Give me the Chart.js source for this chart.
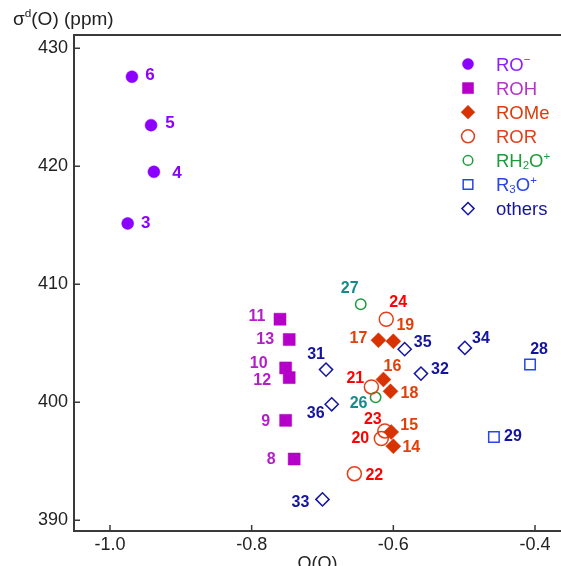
<!DOCTYPE html>
<html>
<head>
<meta charset="utf-8">
<script src="https://cdn.jsdelivr.net/npm/chart.js@4.4.1/dist/chart.umd.min.js"></script>
<style>
  html, body { margin: 0; padding: 0; background: #fff; overflow: hidden; }
  #wrap { width: 561px; height: 566px; position: relative; }
</style>
</head>
<body>
<div id="wrap"><canvas id="sigmaChart"></canvas></div>
<script>
// Q(O) charge vs diamagnetic shielding sigma-d(O) in ppm, one group per class
const roMinusIds = [3, 4, 5, 6];
const roMinusQ = [-0.975, -0.938, -0.942, -0.969];
const roMinusSigma = [415.16, 419.53, 423.49, 427.59];

const rohIds = [8, 9, 10, 11, 12, 13];
const rohQ = [-0.740, -0.752, -0.752, -0.760, -0.747, -0.747];
const rohSigma = [395.19, 398.47, 402.91, 407.04, 402.09, 405.32];

const romeIds = [14, 15, 16, 17, 18, 19];
const romeQ = [-0.600, -0.603, -0.614, -0.621, -0.604, -0.600];
const romeSigma = [396.27, 397.48, 401.93, 405.26, 400.93, 405.17];

const rorIds = [20, 21, 22, 23, 24];
const rorQ = [-0.617, -0.631, -0.655, -0.612, -0.610];
const rorSigma = [396.92, 401.30, 393.95, 397.57, 407.04];

const rh2oIds = [26, 27];
const rh2oQ = [-0.625, -0.646];
const rh2oSigma = [400.42, 408.31];

const r3oIds = [28, 29];
const r3oQ = [-0.407, -0.458];
const r3oSigma = [403.20, 397.06];

const otherIds = [31, 32, 33, 34, 35, 36];
const otherQ = [-0.695, -0.561, -0.700, -0.499, -0.584, -0.687];
const otherSigma = [402.77, 402.43, 391.77, 404.61, 404.50, 399.83];

const xTicks = [-1.0, -0.8, -0.6, -0.4];
const yTicks = [390, 400, 410, 420, 430];

// where each number sits relative to its marker (px)
const labelOffsets = {
  3: [18, 0], 4: [23, 1], 5: [19, -2], 6: [18, -1],
  8: [-23, 1], 9: [-20, 1], 10: [-27, -4], 11: [-23, -3], 12: [-27, 3], 13: [-24, 0],
  14: [18, 1], 15: [18, -6], 16: [9, -13], 17: [-20, -2], 18: [19, 2], 19: [12, -16],
  20: [-21, 0], 21: [-16, -8], 22: [20, 2], 23: [-12, -11], 24: [12, -17],
  26: [-17, 6], 27: [-11, -16],
  28: [9, -15], 29: [19, 0],
  31: [-10, -15], 32: [19, -4], 33: [-22, 3], 34: [16, -9], 35: [18, -7], 36: [-16, 9]
};

const FONT = '"Liberation Sans", Arial, Helvetica, sans-serif';
const AXIS = '#3a3a3a';
const NONE = 'rgba(0,0,0,0)';

function pts(q, s) {
  return q.map((v, i) => ({ x: v, y: s[i] }));
}

const datasets = [
  { label: 'RO-', data: pts(roMinusQ, roMinusSigma), ids: roMinusIds,
    pointStyle: 'circle', pointRadius: 6, backgroundColor: '#8c00ff', borderColor: '#8c00ff', borderWidth: 0.5,
    labelColor: '#8c00ff', labelSize: 17,
    legendText: [['RO'], ['\u2212', 'sup']], legendColor: '#8c1eff' },
  { label: 'ROH', data: pts(rohQ, rohSigma), ids: rohIds,
    pointStyle: 'rect', pointRadius: 8.5, backgroundColor: '#b400c8', borderColor: '#b400c8', borderWidth: 0.5,
    labelColor: '#b41ec8', labelSize: 16,
    legendText: [['ROH']], legendColor: '#b432c8' },
  { label: 'ROMe', data: pts(romeQ, romeSigma), ids: romeIds,
    pointStyle: 'rectRot', pointRadius: 7.5, backgroundColor: '#d73200', borderColor: '#d73200', borderWidth: 0.5,
    labelColor: '#e0400a', labelSize: 16,
    legendText: [['ROMe']], legendColor: '#dc3c0a' },
  { label: 'ROR', data: pts(rorQ, rorSigma), ids: rorIds,
    pointStyle: 'circle', pointRadius: 7, backgroundColor: NONE, borderColor: '#e0401a', borderWidth: 1.5,
    labelColor: '#ff0000', labelSize: 16,
    legendText: [['ROR']], legendColor: '#e0401a' },
  { label: 'RH2O+', data: pts(rh2oQ, rh2oSigma), ids: rh2oIds,
    pointStyle: 'circle', pointRadius: 5.2, backgroundColor: NONE, borderColor: '#1e9b3c', borderWidth: 1.5,
    labelColor: '#148c8c', labelSize: 16,
    legendText: [['RH'], ['2', 'sub'], ['O'], ['+', 'sup']], legendColor: '#1e9b3c' },
  { label: 'R3O+', data: pts(r3oQ, r3oSigma), ids: r3oIds,
    pointStyle: 'rect', pointRadius: 7.4, backgroundColor: NONE, borderColor: '#2846e6', borderWidth: 1.5,
    labelColor: '#1414a0', labelSize: 16,
    legendText: [['R'], ['3', 'sub'], ['O'], ['+', 'sup']], legendColor: '#2846e6' },
  { label: 'others', data: pts(otherQ, otherSigma), ids: otherIds,
    pointStyle: 'rectRot', pointRadius: 6.6, backgroundColor: NONE, borderColor: '#1414aa', borderWidth: 1.5,
    labelColor: '#1414a0', labelSize: 16,
    legendText: [['others']], legendColor: '#14149b' }
];

function drawRich(ctx, parts, x, y, size, color) {
  let cx = x;
  ctx.fillStyle = color;
  ctx.textAlign = 'left';
  ctx.textBaseline = 'alphabetic';
  parts.forEach(([text, kind]) => {
    const s = kind ? size * 0.62 : size;
    ctx.font = s + 'px ' + FONT;
    const dy = kind === 'sup' ? -size * 0.4 : kind === 'sub' ? size * 0.12 : 0;
    ctx.fillText(text, cx, y + dy);
    cx += ctx.measureText(text).width;
  });
}

// legend marker, same shapes as Chart.js uses for points
function drawMarker(ctx, style, r, x, y, filled) {
  ctx.beginPath();
  if (style === 'circle') {
    ctx.arc(x, y, r, 0, Math.PI * 2);
  } else if (style === 'rect') {
    const h = r * Math.SQRT1_2;
    ctx.rect(x - h, y - h, 2 * h, 2 * h);
  } else {
    ctx.moveTo(x - r, y);
    ctx.lineTo(x, y - r);
    ctx.lineTo(x + r, y);
    ctx.lineTo(x, y + r);
    ctx.closePath();
  }
  if (filled) ctx.fill();
  ctx.stroke();
}

const decorations = {
  id: 'decorations',
  afterDraw(chart) {
    const ctx = chart.ctx;
    const a = chart.chartArea;
    const xs = chart.scales.x, ys = chart.scales.y;
    ctx.save();

    // top frame and inward ticks
    ctx.strokeStyle = AXIS;
    ctx.lineWidth = 2;
    ctx.beginPath();
    ctx.moveTo(a.left - 1, a.top);
    ctx.lineTo(a.right, a.top);
    ctx.stroke();
    ctx.lineWidth = 1.5;
    ctx.beginPath();
    xs.ticks.forEach(t => {
      const px = xs.getPixelForValue(t.value);
      ctx.moveTo(px, a.bottom);
      ctx.lineTo(px, a.bottom - 6);
    });
    ys.ticks.forEach(t => {
      const py = ys.getPixelForValue(t.value);
      ctx.moveTo(a.left, py);
      ctx.lineTo(a.left + 6, py);
    });
    ctx.stroke();

    // point numbers
    ctx.textAlign = 'center';
    ctx.textBaseline = 'middle';
    chart.data.datasets.forEach((ds, i) => {
      const meta = chart.getDatasetMeta(i);
      ctx.font = 'bold ' + ds.labelSize + 'px ' + FONT;
      ctx.fillStyle = ds.labelColor;
      meta.data.forEach((el, j) => {
        const id = ds.ids[j];
        const off = labelOffsets[id] || [14, 0];
        ctx.fillText(String(id), el.x + off[0], el.y + off[1]);
      });
    });

    // legend inside the plot
    const lx = 468, ly = 64, step = 24.1;
    chart.data.datasets.forEach((ds, i) => {
      const cy = ly + i * step;
      ctx.fillStyle = ds.backgroundColor;
      ctx.strokeStyle = ds.borderColor;
      ctx.lineWidth = ds.borderWidth;
      drawMarker(ctx, ds.pointStyle, ds.pointRadius * 0.92, lx, cy, ds.backgroundColor !== NONE);
      drawRich(ctx, ds.legendText, 496, cy + 6.5, 18.5, ds.legendColor);
    });

    // y axis title
    drawRich(ctx, [['\u03c3'], ['d', 'sup'], ['(O) (ppm)']], 13, 25, 19, '#222');
    ctx.restore();
  }
};

new Chart(document.getElementById('sigmaChart'), {
  type: 'scatter',
  data: { datasets: datasets },
  plugins: [decorations],
  options: {
    responsive: true,
    maintainAspectRatio: false,
    animation: false,
    layout: { autoPadding: false, padding: { top: 35, left: 0, right: 0, bottom: 0 } },
    plugins: {
      legend: { display: false },
      tooltip: { enabled: false }
    },
    scales: {
      x: {
        type: 'linear',
        min: -1.0508,
        max: -0.3633,
        afterBuildTicks: s => { s.ticks = xTicks.map(v => ({ value: v })); },
        afterFit: s => { s.height = 35; s.paddingLeft = 0; s.paddingRight = 0; },
        ticks: {
          padding: 3,
          color: '#222',
          font: { family: FONT, size: 18 },
          callback: v => v.toFixed(1)
        },
        grid: { drawOnChartArea: false, drawTicks: false },
        border: { display: true, color: AXIS, width: 2 },
        title: {
          display: true,
          text: 'Q(O)',
          color: '#222',
          font: { family: FONT, size: 18 },
          padding: { top: 0, bottom: -9 }
        }
      },
      y: {
        type: 'linear',
        min: 389.09,
        max: 431.13,
        afterBuildTicks: s => { s.ticks = yTicks.map(v => ({ value: v })); },
        afterFit: s => { s.width = 74; s.paddingTop = 0; s.paddingBottom = 0; },
        ticks: {
          padding: 6,
          color: '#222',
          font: { family: FONT, size: 18 }
        },
        grid: { drawOnChartArea: false, drawTicks: false },
        border: { display: true, color: AXIS, width: 2 }
      }
    }
  }
});
</script>
</body>
</html>
